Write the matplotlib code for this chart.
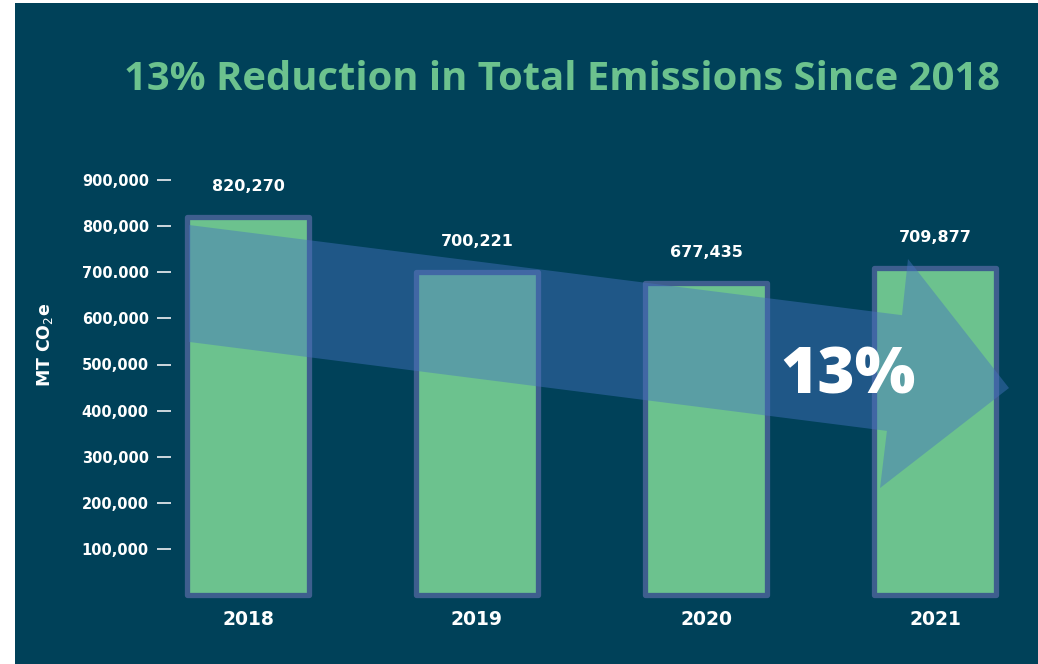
import matplotlib
matplotlib.use("Agg")
import matplotlib.pyplot as plt
from matplotlib.patches import Rectangle, Polygon
from matplotlib.ticker import FixedLocator

# ---- data ----
years = ["2018", "2019", "2020", "2021"]
emissions = [820270, 700221, 677435, 709877]
value_labels = ["820,270", "700,221", "677,435", "709,877"]
ytick_values = [100000, 200000, 300000, 400000, 500000, 600000, 700000, 800000, 900000]
ytick_labels = ["100,000", "200,000", "300,000", "400,000", "500,000",
                "600,000", "700.000", "800,000", "900,000"]
title = "13% Reduction in Total Emissions Since 2018"
reduction_label = "13%"

# ---- style ----
BG = "#004159"
GREEN = "#6CC28E"
EDGE = "#3E5E8E"
ARROW = "#4573C0"

W, H = 1038, 664
fig = plt.figure(figsize=(W / 100, H / 100), dpi=100, facecolor="white")
fig.patches.append(Rectangle((15 / W, 0), 1 - 15 / W, (H - 3) / H,
                             transform=fig.transFigure, facecolor=BG,
                             edgecolor="none", zorder=-10))

# axes in pixel geometry
ax_left, ax_right = 171, 1012
ax_bottom_px, ax_top_px = 595, 134
ax = fig.add_axes([ax_left / W, (H - ax_bottom_px) / H,
                   (ax_right - ax_left) / W, (ax_bottom_px - ax_top_px) / H])
ax.set_facecolor("none")
for s in ax.spines.values():
    s.set_visible(False)

spacing_px = 229
x0_px = 248
xs = list(range(len(years)))
ax.set_xlim((ax_left - x0_px) / spacing_px, (ax_right - x0_px) / spacing_px)
ax.set_ylim(0, 1_000_000)

bar_w = 122 / spacing_px
bars = ax.bar(xs, emissions, width=bar_w, color=GREEN, edgecolor=EDGE,
              linewidth=3.8, zorder=2, clip_on=False)
for b in bars:
    b.set_joinstyle("round")

for x, v, lab in zip(xs, emissions, value_labels):
    ax.annotate(lab, (x, v), xytext=(0, 22), textcoords="offset points",
                ha="center", va="center", color="white", fontsize=11.5,
                fontweight="semibold", zorder=5)

# y ticks
ax.yaxis.set_major_locator(FixedLocator(ytick_values))
ax.set_yticklabels(ytick_labels)
ax.tick_params(axis="y", direction="out", length=10, width=1.3,
               color="#DDE3E8", pad=6, labelcolor="white", labelsize=10.5)
for t in ax.get_yticklabels():
    t.set_fontweight("semibold")

# x ticks
ax.set_xticks(xs)
ax.set_xticklabels(years)
ax.tick_params(axis="x", length=0, pad=11, labelcolor="white", labelsize=13.5)
for t in ax.get_xticklabels():
    t.set_fontweight("semibold")

# decorative reduction arrow (data coordinates)
arrow_pts = [(-0.258, 802600), (2.856, 607000), (2.882, 729000),
             (3.323, 449000), (2.760, 232000), (2.790, 356000),
             (-0.258, 549000)]
ax.add_patch(Polygon(arrow_pts, closed=True, facecolor=ARROW, alpha=0.45,
                     edgecolor="none", zorder=3, clip_on=False))

ax.text(2.62, 475000, reduction_label, ha="center", va="center",
        color="white", fontsize=46, fontweight="heavy",
        family=["Open Sans", "DejaVu Sans"], zorder=6)

# y label
fig.text(45 / W, (H - 345) / H, "MT CO$_2$e", rotation=90, ha="center",
         va="center", color="white", fontsize=12.5, fontweight="bold")

# title
fig.text(562 / W, (H - 80) / H, title, ha="center", va="center",
         color=GREEN, fontsize=28.8, fontweight="bold",
         family=["Open Sans", "DejaVu Sans"])

fig.savefig("out.png", dpi=100, facecolor="white")
